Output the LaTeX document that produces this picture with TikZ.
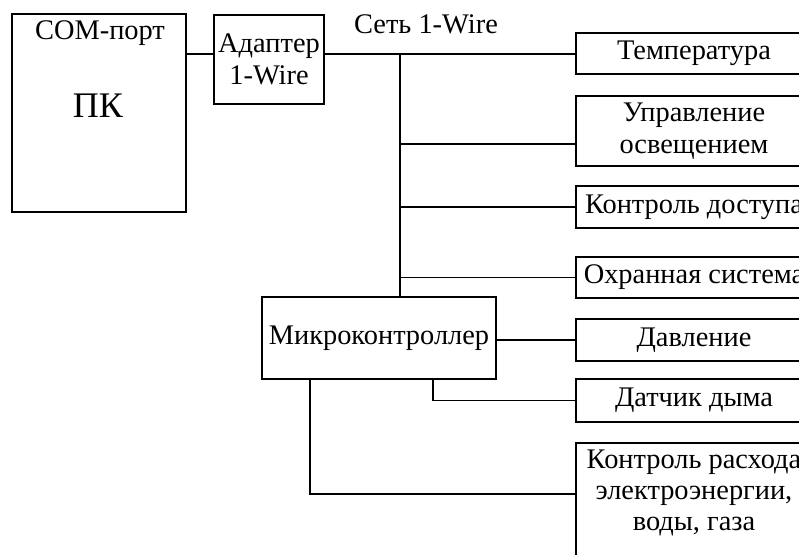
\documentclass[tikz,border=0pt]{standalone}
\usepackage{fontspec}
\setmainfont{Liberation Serif}
\begin{document}
\begin{tikzpicture}[x=0.75pt,y=-0.75pt,
  box/.style={draw, line width=1.3pt, inner sep=0pt, align=center, font=\fontsize{21.3}{23.5}\selectfont},
  rbox/.style={box, minimum width=177pt},
  lbl/.style={inner sep=0pt, align=center, font=\fontsize{21.3}{23.5}\selectfont},
  wire/.style={line width=1.3pt}]
\useasboundingbox (0,0) rectangle (799,554);
\clip (0,0) rectangle (799,554);
% left part
\node[box, minimum width=130.5pt, minimum height=148.5pt] (pc) at (99,113) {};
\node[lbl] (com) at (100,33) {COM-порт};
\node[lbl, font=\fontsize{27}{30}\selectfont] (pk) at (98,106) {ПК};
\node[box, minimum width=82.5pt, minimum height=66.75pt] (ad) at (269,59.5) {Адаптер\\1-Wire};
\node[lbl] (net) at (426,24) {Сеть 1-Wire};
% right boxes
\node[rbox, minimum height=30.75pt] (temp) at (694,53.5) {Температура};
\node[rbox, minimum height=52.5pt] (upr) at (694,131) {\raisebox{0pt}{Управление}\\освещением};
\node[rbox, minimum height=31.5pt] (kd) at (694,207) {Контроль доступа};
\node[rbox, minimum height=30.75pt] (ohr) at (694,277.5) {Охранная система};
\node[rbox, minimum height=31.5pt] (dav) at (694,340) {Давление};
\node[rbox, minimum height=32.25pt] (dat) at (694,400.5) {Датчик дыма};
\node[rbox, minimum height=120pt, anchor=north] (rash) at (694,442) {};
\node[lbl] (rasht) at (694,493) {Контроль расхода\\электроэнергии,\\воды, газа};
% microcontroller
\node[box, minimum width=175.5pt, minimum height=61.5pt] (mc) at (379,338) {Микроконтроллер};
% wires
\coordinate (b0) at (400,54);
\coordinate (b1) at (400,144);
\coordinate (r7) at (310,494);
\draw[wire] (pc.east |- b0) -- (ad.west |- b0);
\draw[wire] (ad.east |- b0) -- (temp.west |- b0);
\draw[wire] (b0) -- (b0 |- mc.north);
\draw[wire] (b1) -- (upr.west |- b1);
\draw[wire] (b0 |- kd.west) -- (kd.west);
\draw[wire] (b0 |- ohr.west) -- (ohr.west);
\draw[wire] (mc.east |- dav.west) -- (dav.west);
\draw[wire] ([xshift=40.5pt]mc.south) |- (dat.west);
\draw[wire] ([xshift=-51.75pt]mc.south) |- (rash.west |- r7);
\end{tikzpicture}
\end{document}
